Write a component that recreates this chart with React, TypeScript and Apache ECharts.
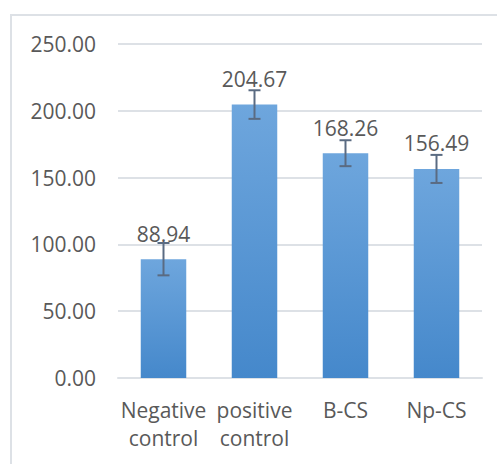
import React, { useEffect, useRef } from "react";
import * as echarts from "echarts";

const categories = ["Negative\ncontrol", "positive\ncontrol", "B-CS", "Np-CS"];
const means = [88.94, 204.67, 168.26, 156.49];
const errors = [12.1, 10.7, 9.7, 10.5];
const yTicks = { min: 0, max: 250, interval: 50 };

const TEXT = "#595959";
const FONT = "Open Sans";

export default function App() {
  const ref = useRef<HTMLDivElement>(null);
  useEffect(() => {
    if (!ref.current) return;
    const chart = echarts.init(ref.current, undefined, { renderer: "svg" });
    const errorData = categories.map((_, i) => [i, means[i] - errors[i], means[i] + errors[i]]);
    chart.setOption({
      animation: false,
      backgroundColor: "#ffffff",
      graphic: [
        {
          type: "rect",
          shape: { x: 11, y: 15, width: 520, height: 480 },
          style: { fill: "none", stroke: "#DDE1E6", lineWidth: 2 },
          silent: true,
        },
      ],
      grid: { left: 118, right: 15, top: 44, bottom: 86, containLabel: false },
      xAxis: {
        type: "category",
        data: categories,
        axisLine: { show: true, lineStyle: { color: "#DDE1E6", width: 2 } },
        axisTick: { show: false },
        axisLabel: {
          color: TEXT,
          fontFamily: FONT,
          fontSize: 21,
          lineHeight: 28,
          margin: 18,
          interval: 0,
        },
      },
      yAxis: {
        type: "value",
        min: yTicks.min,
        max: yTicks.max,
        interval: yTicks.interval,
        axisLine: { show: false },
        axisTick: { show: false },
        splitLine: { lineStyle: { color: "#DDE1E6", width: 2 } },
        axisLabel: {
          color: TEXT,
          fontFamily: FONT,
          fontSize: 21,
          margin: 22,
          formatter: (v: number) => v.toFixed(2),
        },
      },
      series: [
        {
          type: "bar",
          data: means,
          barCategoryGap: "50%",
          itemStyle: {
            color: new echarts.graphic.LinearGradient(0, 0, 0, 1, [
              { offset: 0, color: "#6EA6DD" },
              { offset: 1, color: "#4588CB" },
            ]),
          },
          label: {
            show: true,
            position: "top",
            distance: 15,
            color: TEXT,
            fontFamily: FONT,
            fontSize: 21,
            formatter: (p: any) => p.value.toFixed(2),
          },
          z: 2,
        },
        {
          type: "custom",
          data: errorData,
          encode: { x: 0, y: [1, 2] },
          z: 5,
          renderItem: (params: any, api: any) => {
            const x = api.value(0);
            const lo = api.coord([x, api.value(1)]);
            const hi = api.coord([x, api.value(2)]);
            const w = 6;
            const style = { stroke: "#5A6B82", lineWidth: 2 };
            return {
              type: "group",
              children: [
                { type: "line", shape: { x1: hi[0], y1: hi[1], x2: lo[0], y2: lo[1] }, style },
                { type: "line", shape: { x1: hi[0] - w, y1: hi[1], x2: hi[0] + w, y2: hi[1] }, style },
                { type: "line", shape: { x1: lo[0] - w, y1: lo[1], x2: lo[0] + w, y2: lo[1] }, style },
              ],
            };
          },
        },
      ],
    });
    return () => chart.dispose();
  }, []);
  return (
    <div
      ref={ref}
      style={{ position: "fixed", left: 0, top: 0, width: 497, height: 464 }}
    />
  );
}
